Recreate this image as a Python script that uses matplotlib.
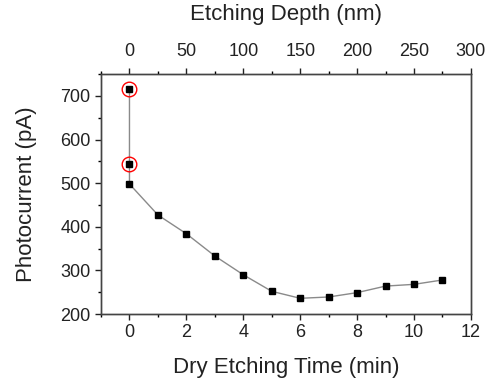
import matplotlib
matplotlib.use("Agg")
import matplotlib.pyplot as plt
from matplotlib.ticker import MultipleLocator

plt.rcParams['font.family'] = ['Liberation Sans', 'DejaVu Sans']

# data
time_min = [0, 0, 0, 1, 2, 3, 4, 5, 6, 7, 8, 9, 10, 11]
current_pA = [715, 543, 498, 427, 384, 333, 290, 252, 236, 239, 249, 264, 268, 278]
circled = [0, 1]  # indexes of the red-circled points
nm_per_min = 25

fig = plt.figure(figsize=(4.88, 3.82), dpi=100)
ax = fig.add_axes([0.207, 0.178, 0.758, 0.628])

ax.plot(time_min, current_pA, color='#8a8a8a', lw=1.0, marker='s',
        markersize=3.8, markerfacecolor='black', markeredgecolor='black', zorder=3)
ax.plot([time_min[i] for i in circled], [current_pA[i] for i in circled],
        linestyle='none', marker='o', markersize=10.5, markerfacecolor='none',
        markeredgecolor='red', markeredgewidth=1.0, zorder=4)

ax.set_xlim(-1, 12)
ax.set_ylim(200, 750)
ax.xaxis.set_major_locator(MultipleLocator(2))
ax.xaxis.set_minor_locator(MultipleLocator(1))
ax.yaxis.set_major_locator(MultipleLocator(100))
ax.yaxis.set_minor_locator(MultipleLocator(50))
ax.set_yticks(range(200, 701, 100))

ax.set_xlabel('Dry Etching Time (min)', fontsize=16, color='#222222', labelpad=11)
ax.set_ylabel('Photocurrent (pA)', fontsize=16, color='#222222', labelpad=17)

top = ax.twiny()
top.set_xlim(-1 * nm_per_min, 12 * nm_per_min)
top.xaxis.set_major_locator(MultipleLocator(50))
top.xaxis.set_minor_locator(MultipleLocator(25))
top.set_xlabel('Etching Depth (nm)', fontsize=16, color='#222222', labelpad=17)

for a in (ax, top):
    a.tick_params(which='major', direction='out', length=4, width=1,
                  labelsize=13, colors='#222222')
    a.tick_params(which='minor', direction='out', length=2.5, width=1)
    for s in a.spines.values():
        s.set_color('#444444')
        s.set_linewidth(1)
top.tick_params(which='major', pad=6)

fig.savefig('out.png', dpi=100)
